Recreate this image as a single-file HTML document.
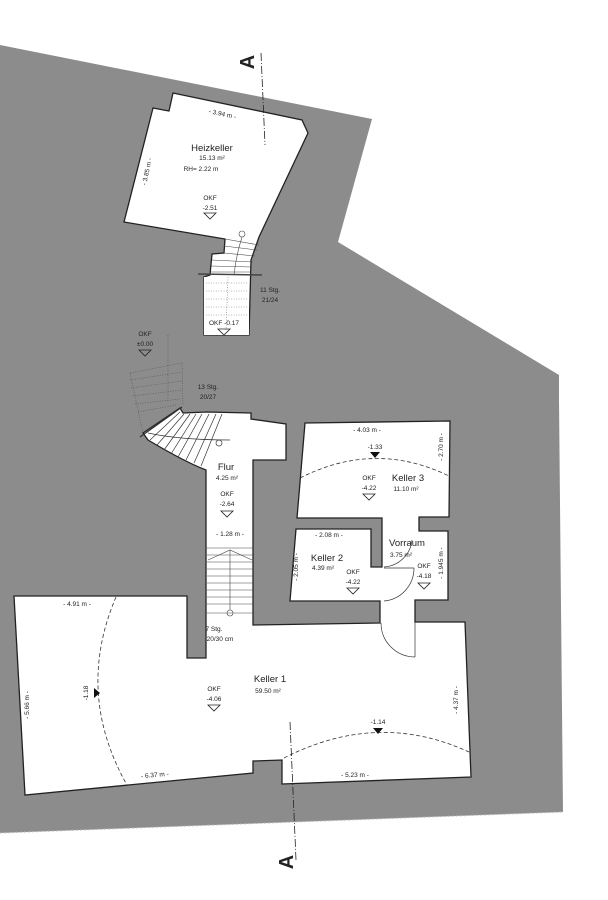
<!DOCTYPE html>
<html><head><meta charset="utf-8"><style>
html,body{margin:0;padding:0;background:#fff;}
svg{display:block;}
text{font-family:"Liberation Sans",sans-serif;fill:#222;}
.s{font-size:6.5px;}
.n{font-size:9.5px;}
</style></head><body>
<svg width="608" height="900" viewBox="0 0 608 900" xmlns="http://www.w3.org/2000/svg">
<polygon points="0,45 372,119 338,242 559,375 559,400 563,812 0,833" fill="#8c8c8c"/>
<line x1="0" y1="833" x2="563" y2="812" stroke="#bbb" stroke-dasharray="2,2" stroke-width="1"/>
<polygon points="173,93 302,120 308,133 259,237 251,260 249,335 204,335 204,277 210,275 212,254 224,253 225,239 124,222 153,108 169,111" fill="#fff" stroke="#222" stroke-width="1.3"/>
<polygon points="204,277 249,277 249,335 204,335" fill="#fff"/>
<g stroke="#444" stroke-width="0.6" fill="none">
<line x1="225" y1="239" x2="259" y2="245"/><line x1="224" y1="246" x2="257" y2="250"/>
<line x1="224" y1="253" x2="255" y2="256"/><line x1="212" y1="260" x2="253" y2="262"/>
<line x1="211" y1="266" x2="252" y2="267"/><line x1="210" y1="272" x2="251" y2="272"/>
<path d="M242,237 Q236,256 234,275"/>
<circle cx="242" cy="234" r="3"/>
<line x1="198" y1="274" x2="262" y2="275" stroke-width="1.5"/>
</g>
<g stroke="#777" stroke-width="0.6" stroke-dasharray="1,1.5" fill="none">
<line x1="206" y1="283" x2="248" y2="283"/><line x1="206" y1="291" x2="248" y2="291"/>
<line x1="206" y1="299" x2="248" y2="299"/><line x1="206" y1="307" x2="248" y2="307"/>
<line x1="206" y1="315" x2="248" y2="315"/><line x1="228" y1="277" x2="226" y2="330"/>
</g>
<g stroke="#555" stroke-width="0.6" stroke-dasharray="1,1.5" fill="none">
<line x1="168" y1="335" x2="168" y2="402"/><line x1="182" y1="363" x2="183" y2="405"/>
<line x1="130" y1="373" x2="182" y2="363"/><line x1="130" y1="380" x2="182" y2="372"/>
<line x1="131" y1="388" x2="182" y2="381"/><line x1="133" y1="396" x2="182" y2="390"/>
<line x1="135" y1="404" x2="180" y2="399"/><line x1="138" y1="412" x2="176" y2="405"/>
<line x1="130" y1="373" x2="143" y2="433"/>
</g>
<path d="M14,596 L187,596 L187,658 L206,658 L206,470 Q185,462 148,440 L143,433 L180,408 L183,413 L207,412 L251,413 L251,419 L286,424 L286,460 L253,460 L253,625 L380,623 L380,601 L290,601 L296,529 L371,529 L371,567 L382,567 L382,518 L297,518 L305,423 L450,421 L449,517 L419,517 L419,531 L448,531 L448,600 L415,600 L415,622 L465,622 L471,777 L282,784 L282,760 L253,761 L253,773 L25,795 Z" fill="#fff" stroke="#222" stroke-width="1.3"/>
<g stroke="#333" stroke-width="0.7" fill="none">
<line x1="150" y1="440" x2="180" y2="412"/><line x1="157" y1="445" x2="184" y2="414"/>
<line x1="164" y1="450" x2="190" y2="414"/><line x1="171" y1="454" x2="196" y2="414"/>
<line x1="178" y1="457" x2="202" y2="414"/><line x1="186" y1="460" x2="209" y2="414"/>
<line x1="194" y1="463" x2="216" y2="414"/><line x1="201" y1="466" x2="222" y2="414"/>
<path d="M148,433 Q180,440 230,440"/>
<circle cx="219" cy="443" r="3"/>
<line x1="140" y1="437" x2="182" y2="407" stroke-width="1.3"/>
</g>
<g stroke="#444" stroke-width="0.6" fill="none">
<line x1="207" y1="548" x2="253" y2="548"/><line x1="207" y1="555" x2="253" y2="555"/>
<line x1="207" y1="562" x2="253" y2="562"/><line x1="207" y1="569" x2="253" y2="569"/>
<line x1="207" y1="576" x2="253" y2="576"/><line x1="207" y1="583" x2="253" y2="583"/>
<line x1="207" y1="590" x2="253" y2="590"/><line x1="207" y1="597" x2="253" y2="597"/>
<line x1="207" y1="604" x2="253" y2="604"/><line x1="207" y1="613" x2="253" y2="613"/>
<line x1="230" y1="550" x2="230" y2="610"/>
<polyline points="208,560 230,550 252,560"/>
<circle cx="230" cy="613" r="3"/>
</g>
<g stroke="#333" stroke-width="0.7" fill="none">
<line x1="384" y1="568" x2="414" y2="568"/>
<path d="M414,568 A33,33 0 0 1 384,601"/>
<path d="M384,567 A30,30 0 0 0 412,540"/>
<line x1="415" y1="622" x2="415" y2="657"/>
<path d="M381,623 A34,34 0 0 0 415,657"/>
</g>
<g stroke="#333" stroke-width="0.8" fill="none" stroke-dasharray="4,2.5">
<path d="M300,478 Q375,440 449,476"/>
<path d="M116,597 Q75,693 127,785"/>
<path d="M284,758 Q378,710 469,752"/>
</g>
<polygon points="370,452 380,452 375,458" fill="#111"/>
<polygon points="373,728 383,728 378,734" fill="#111"/>
<polygon points="94,688 94,698 100,693" fill="#111"/>
<g stroke="#222" stroke-width="0.8" stroke-dasharray="8,2,1,2" fill="none">
<line x1="261" y1="53" x2="265" y2="145"/>
<line x1="290" y1="722" x2="296" y2="860"/>
</g>
<text x="247" y="62" font-size="20" font-weight="bold" text-anchor="middle" transform="rotate(-90 247 62)" dy="7">A</text>
<text x="286" y="862" font-size="20" font-weight="bold" text-anchor="middle" transform="rotate(-90 286 862)" dy="7">A</text>
<g fill="none" stroke="#222" stroke-width="0.8">
<polygon points="204,213 216,213 210,219"/>
<polygon points="218,329 230,329 224,335"/>
<polygon points="139,350 151,350 145,356"/>
<polygon points="221,511 233,511 227,517"/>
<polygon points="363,494 375,494 369,500"/>
<polygon points="347,588 359,588 353,594"/>
<polygon points="418,583 430,583 424,589"/>
<polygon points="208,705 220,705 214,711"/>
</g>
<g text-anchor="middle">
<text class="s" x="222" y="116" transform="rotate(12 222 116)">- 3.94 m -</text>
<text class="n" x="212" y="151">Heizkeller</text>
<text class="s" x="212" y="160">15.13 m²</text>
<text class="s" x="201" y="171">RH= 2.22 m</text>
<text class="s" x="149" y="172" transform="rotate(-78 149 172)">- 3.85 m -</text>
<text class="s" x="210" y="200">OKF</text><text class="s" x="210" y="210">-2.51</text>
<text class="s" x="270" y="292">11 Stg.</text><text class="s" x="270" y="302">21/24</text>
<text class="s" x="224" y="325">OKF -0.17</text>
<text class="s" x="145" y="336">OKF</text><text class="s" x="145" y="346">±0.00</text>
<text class="s" x="208" y="389">13 Stg.</text><text class="s" x="208" y="399">20/27</text>
<text class="n" x="226" y="470">Flur</text>
<text class="s" x="227" y="480">4.25 m²</text>
<text class="s" x="227" y="496">OKF</text><text class="s" x="227" y="506">-2.64</text>
<text class="s" x="230" y="536">- 1.28 m -</text>
<text class="s" x="214" y="631">7 Stg.</text><text class="s" x="220" y="641">20/30 cm</text>
<text class="s" x="367" y="432">- 4.03 m -</text>
<text class="s" x="375" y="449">-1.33</text>
<text class="s" x="443" y="447" transform="rotate(-90 443 447)">- 2.70 m -</text>
<text class="s" x="369" y="480">OKF</text><text class="s" x="369" y="490">-4.22</text>
<text class="n" x="408" y="481">Keller 3</text>
<text class="s" x="406" y="491">11.10 m²</text>
<text class="s" x="329" y="537">- 2.08 m -</text>
<text class="n" x="327" y="561">Keller 2</text>
<text class="s" x="323" y="570">4.39 m²</text>
<text class="s" x="298" y="567" transform="rotate(-90 298 567)">- 2.05 m -</text>
<text class="s" x="353" y="574">OKF</text><text class="s" x="353" y="584">-4.22</text>
<text class="n" x="407" y="546">Vorraum</text>
<text class="s" x="401" y="557">3.75 m²</text>
<text class="s" x="424" y="568">OKF</text><text class="s" x="424" y="578">-4.18</text>
<text class="s" x="443" y="563" transform="rotate(-90 443 563)">- 1.945 m -</text>
<text class="s" x="77" y="606">- 4.91 m -</text>
<text class="s" x="88" y="693" transform="rotate(-90 88 693)">-1.18</text>
<text class="s" x="29" y="705" transform="rotate(-90 29 705)">- 5.66 m -</text>
<text class="n" x="270" y="682">Keller 1</text>
<text class="s" x="268" y="693">59.50 m²</text>
<text class="s" x="214" y="691">OKF</text><text class="s" x="214" y="701">-4.06</text>
<text class="s" x="458" y="700" transform="rotate(-90 458 700)">- 4.37 m -</text>
<text class="s" x="378" y="724">-1.14</text>
<text class="s" x="155" y="777" transform="rotate(-5 155 777)">- 6.37 m -</text>
<text class="s" x="355" y="777">- 5.23 m -</text>
</g>
</svg>
</body></html>
